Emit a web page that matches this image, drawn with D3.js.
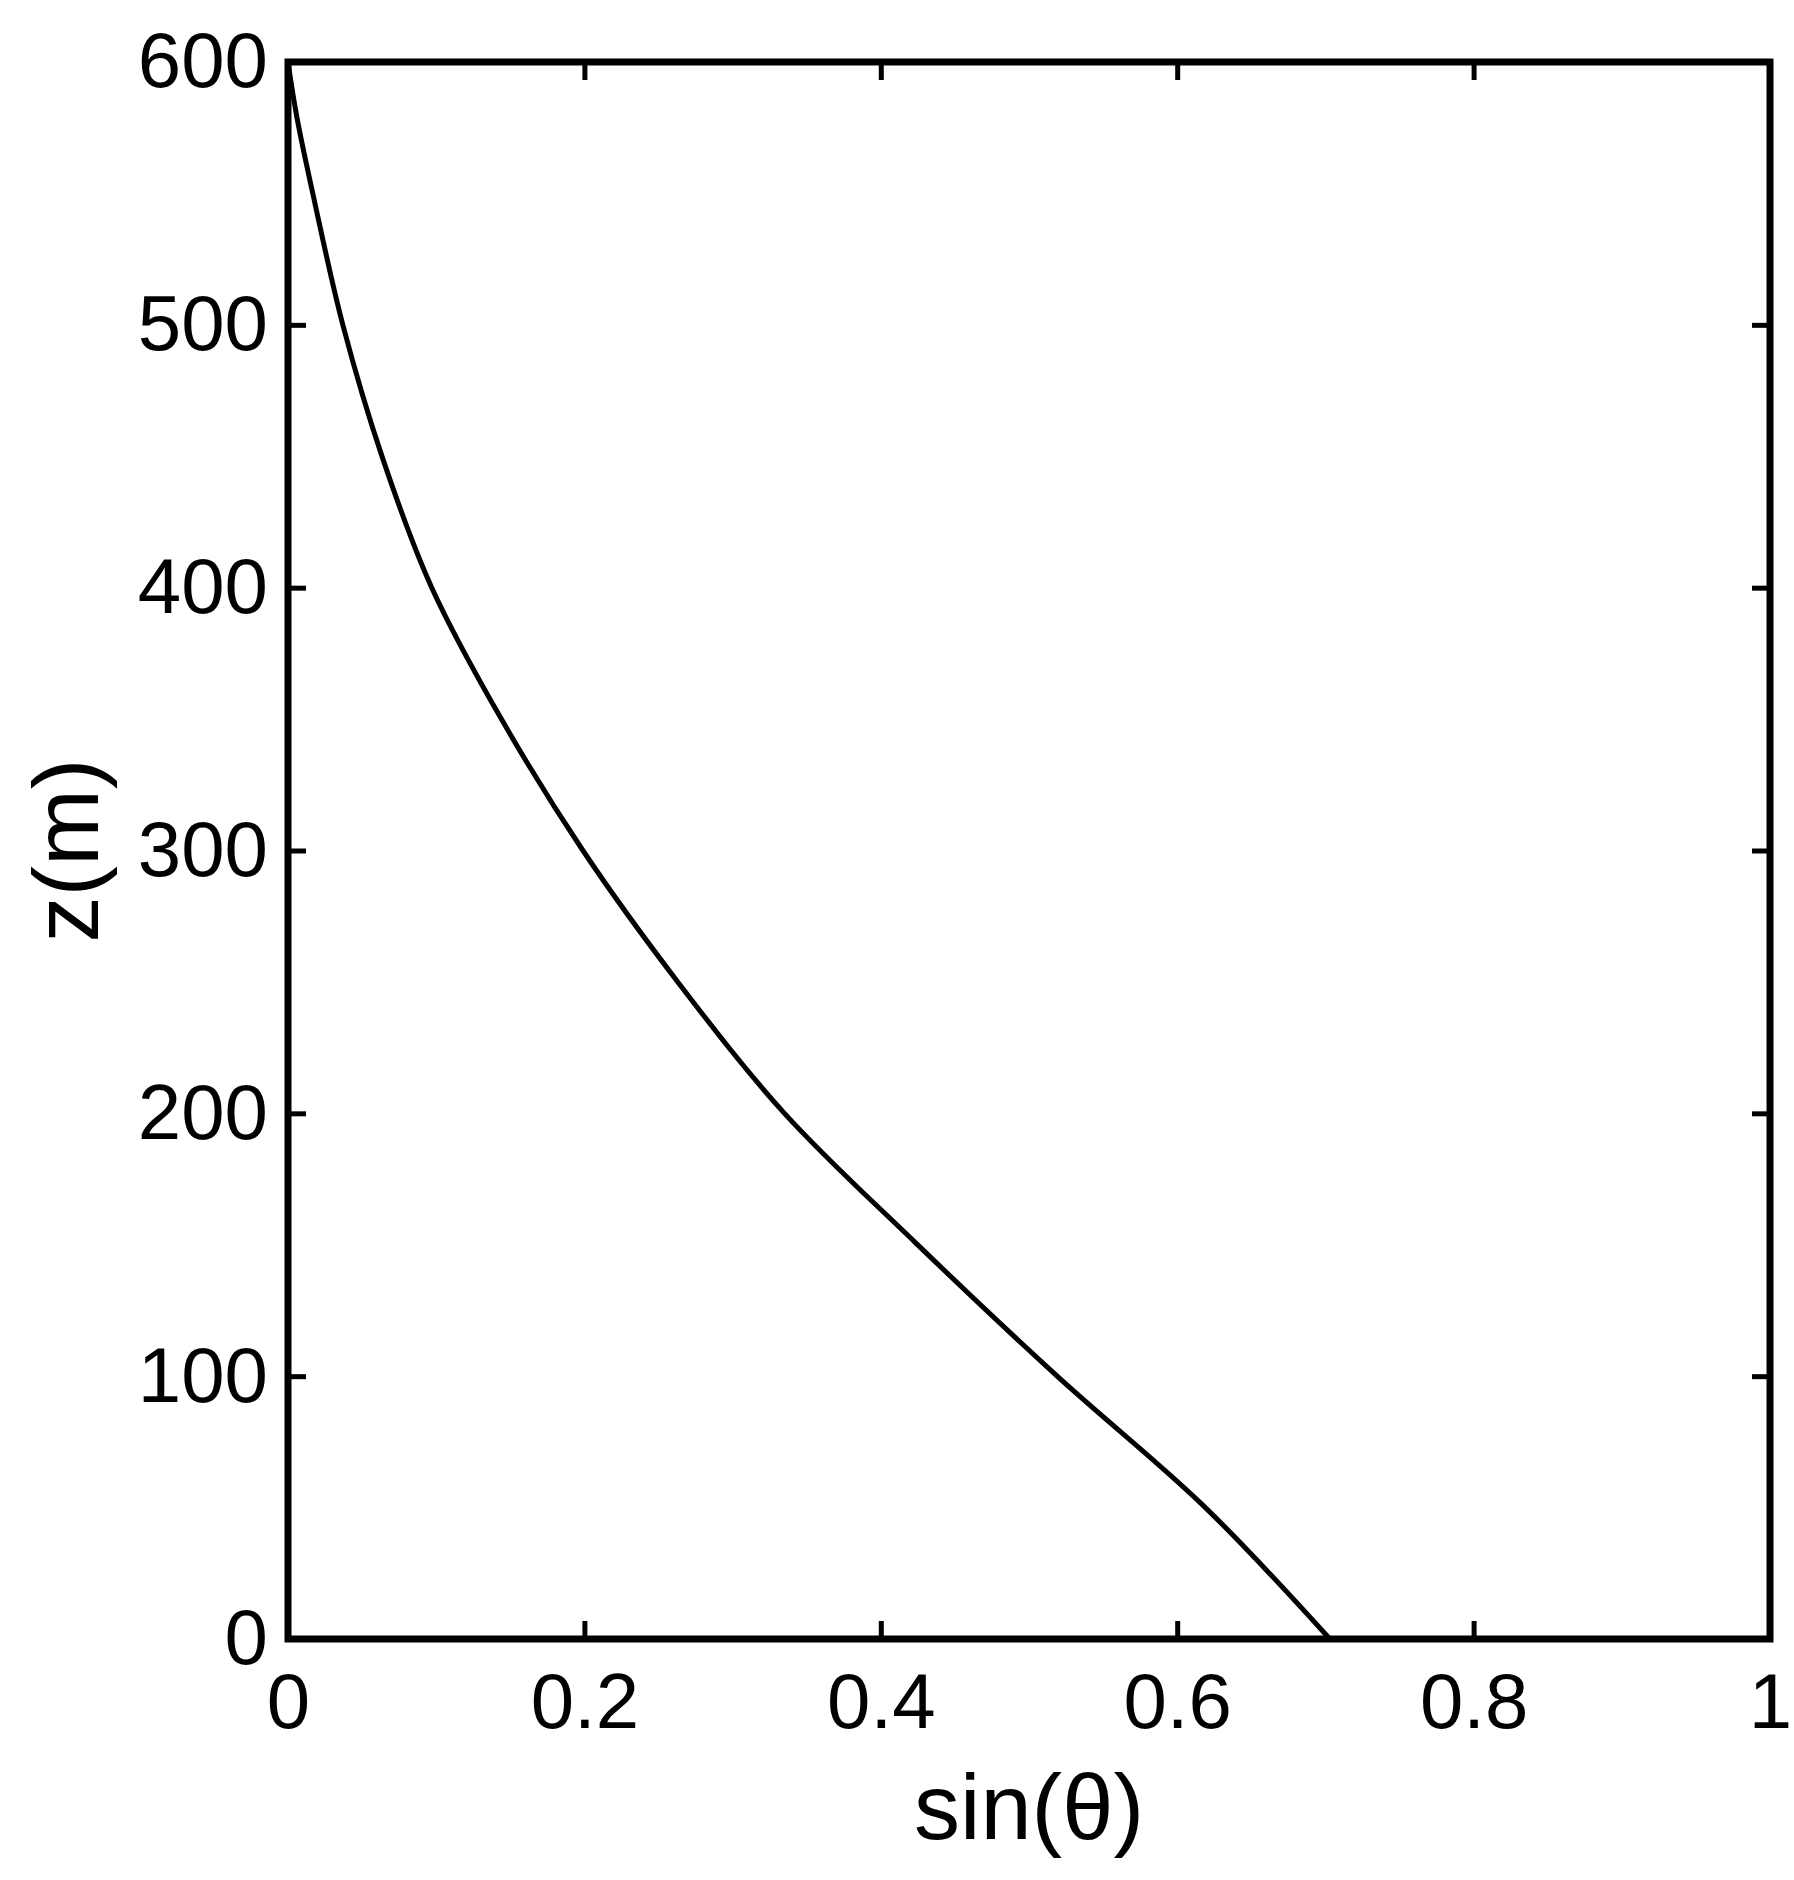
<!DOCTYPE html>
<html>
<head>
<meta charset="utf-8">
<script src="https://cdn.jsdelivr.net/npm/d3@7"></script>
<style>
  body { margin: 0; background: #fff; }
  text { font-family: "Liberation Sans", Arial, sans-serif; fill: #000; }
</style>
</head>
<body>
<div id="chart"></div>
<script>
// curve: height z (m) and sin(theta)
var zValues   = [0, 50, 100, 151, 200, 250, 300, 350, 400, 449, 500, 548, 579, 600]
var sinValues = [0.703, 0.619, 0.519, 0.423, 0.335, 0.263, 0.199, 0.144, 0.097, 0.064, 0.037, 0.0175, 0.006, 0]
var xTicks = [0, 0.2, 0.4, 0.6, 0.8, 1]
var yTicks = [0, 100, 200, 300, 400, 500, 600]

var width = 1794, height = 1880
var margin = { top: 62, left: 288, right: 24, bottom: 241 }
var w = width - margin.left - margin.right
var h = height - margin.top - margin.bottom

var svg = d3.select("#chart").append("svg")
    .attr("width", width).attr("height", height)
var g = svg.append("g")
    .attr("transform", "translate(" + margin.left + "," + margin.top + ")")

var x = d3.scaleLinear().domain([0, 1]).range([0, w])
var y = d3.scaleLinear().domain([0, 600]).range([h, 0])

var fmt = function(d) { return String(d) }

function styleAxis(sel) {
   sel.select(".domain").remove()
   sel.selectAll(".tick line").attr("stroke", "#000").attr("stroke-width", 5)
   sel.selectAll(".tick text").style("font-size", "78px")
}

g.append("g").attr("transform", "translate(0," + h + ")")
   .call(d3.axisBottom(x).tickValues(xTicks).tickFormat(fmt).tickSizeInner(-18).tickPadding(34))
   .call(styleAxis)
g.append("g").attr("transform", "translate(0,0)")
   .call(d3.axisTop(x).tickValues(xTicks).tickFormat("").tickSizeInner(-18))
   .call(styleAxis)
g.append("g")
   .call(d3.axisLeft(y).tickValues(yTicks).tickFormat(fmt).tickSizeInner(-18).tickPadding(20))
   .call(styleAxis)
g.append("g").attr("transform", "translate(" + w + ",0)")
   .call(d3.axisRight(y).tickValues(yTicks).tickFormat("").tickSizeInner(-18))
   .call(styleAxis)

g.append("rect").attr("width", w).attr("height", h)
   .attr("fill", "none").attr("stroke", "#000").attr("stroke-width", 7)

var line = d3.line()
   .x(function(d, i) { return x(sinValues[i]) })
   .y(function(d) { return y(d) })
   .curve(d3.curveCatmullRom)

g.append("path").datum(zValues)
   .attr("d", line)
   .attr("fill", "none").attr("stroke", "#000").attr("stroke-width", 5)

g.append("text")
   .attr("x", w / 2).attr("y", h + 200)
   .attr("text-anchor", "middle").style("font-size", "92px")
   .text("sin(θ)")

g.append("text")
   .attr("transform", "translate(-190," + (h / 2) + ") rotate(-90)")
   .attr("text-anchor", "middle").style("font-size", "92px")
   .text("z(m)")
</script>
</body>
</html>
